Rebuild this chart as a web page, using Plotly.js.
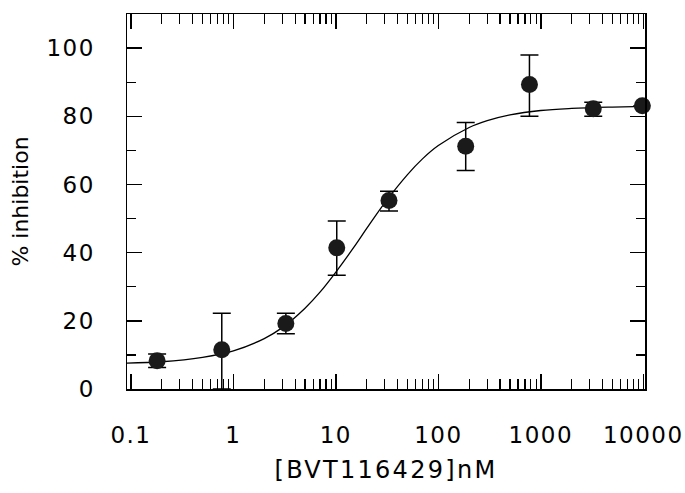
<!DOCTYPE html>
<html>
<head>
<meta charset="utf-8">
<script src="https://cdn.plot.ly/plotly-3.0.1.min.js"></script>
<style>
html,body{margin:0;padding:0;background:#fff;}
#chart{width:685px;height:493px;}
.xtick text,.ytick text{letter-spacing:1.5px;}
.g-xtitle text{letter-spacing:2.3px;}
</style>
</head>
<body>
<div id="chart"></div>
<script>
// Measured data points
const concentration = [0.18, 0.77, 3.25, 10.2, 33, 185, 775, 3250, 9800];
const inhibition    = [8.3, 11.5, 19.2, 41.4, 55.3, 71.2, 89.3, 82.2, 83.1];
const errPlus       = [2, 10.7, 3, 7.9, 2.7, 7, 8.7, 1.9, 0];
const errMinus      = [2, 11.5, 3, 8, 3.1, 7.1, 9.3, 2.2, 0];

// Fitted curve
const curveX = [0.0915, 0.2, 0.5, 1, 2, 3, 5, 7, 10, 15, 20, 30, 50, 70, 100, 200, 300, 500, 1000, 2000, 5000, 10400];
const curveY = [7.6, 8.0, 9.3, 11.2, 14.8, 18.0, 23.7, 28.4, 34.3, 41.6, 47.1, 54.6, 62.9, 67.5, 71.4, 76.7, 78.7, 80.4, 81.7, 82.3, 82.7, 82.9];

const xTickVals = [0.1, 1, 10, 100, 1000, 10000];
const xTickText = ['0.1', '1', '10', '100', '1000', '10000'];

const font = 'DejaVu Sans, Arial, sans-serif';

const traces = [
  {
    x: curveX, y: curveY, type: 'scatter', mode: 'lines',
    line: {color: '#000', width: 1.3, shape: 'spline'},
    hoverinfo: 'skip', showlegend: false
  },
  {
    x: concentration, y: inhibition, type: 'scatter', mode: 'markers',
    marker: {color: '#1a1a1a', size: 17},
    error_y: {type: 'data', symmetric: false, array: errPlus, arrayminus: errMinus,
              color: '#000', thickness: 1.5, width: 9},
    cliponaxis: false, showlegend: false
  }
];

const layout = {
  width: 685, height: 493,
  margin: {l: 127, r: 40, t: 14, b: 104},
  paper_bgcolor: '#fff', plot_bgcolor: '#fff',
  font: {family: font, color: '#000', size: 23},
  showlegend: false,
  xaxis: {
    type: 'log',
    range: [Math.log10(0.0915), Math.log10(10400)],
    tickvals: xTickVals, ticktext: xTickText,
    ticks: 'inside', ticklen: 15, tickwidth: 1.5, tickcolor: '#000',
    minor: {dtick: 'D1', ticks: 'inside', ticklen: 10, tickwidth: 1.2, tickcolor: '#000', showgrid: false},
    showline: true, linecolor: '#000', linewidth: 1.5, mirror: 'allticks',
    showgrid: false, zeroline: false,
    tickfont: {family: font, size: 23, color: '#000'},
    ticklabelstandoff: 25,
    title: {text: '[BVT116429]nM', font: {family: font, size: 24, color: '#000'}, standoff: 14}
  },
  yaxis: {
    range: [0, 110],
    tickvals: [0, 20, 40, 60, 80, 100],
    ticks: 'inside', ticklen: 15, tickwidth: 1.5, tickcolor: '#000',
    minor: {tickvals: [10, 30, 50, 70, 90], ticks: 'inside', ticklen: 9, tickwidth: 1.2, tickcolor: '#000', showgrid: false},
    showline: true, linecolor: '#000', linewidth: 1.5, mirror: 'allticks',
    showgrid: false, zeroline: false,
    tickfont: {family: font, size: 23, color: '#000'},
    ticklabelstandoff: 26,
    title: {text: '% inhibition', font: {family: font, size: 22, color: '#000'}, standoff: 12}
  }
};

Plotly.newPlot('chart', traces, layout, {displayModeBar: false, staticPlot: true});
</script>
</body>
</html>
